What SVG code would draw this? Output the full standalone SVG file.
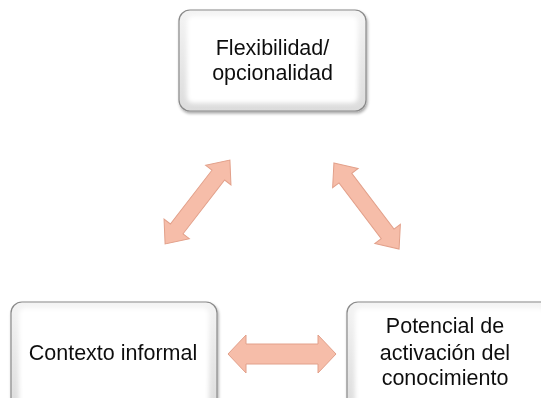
<svg xmlns="http://www.w3.org/2000/svg" width="541" height="398" viewBox="0 0 541 398">
<defs>
<linearGradient id="bev" x1="0" y1="0" x2="0" y2="1">
<stop offset="0" stop-color="#f4f4f4"/>
<stop offset="1" stop-color="#dcdcdc"/>
</linearGradient>
<filter id="soft" x="-10%" y="-10%" width="120%" height="120%">
<feGaussianBlur stdDeviation="2"/>
</filter>
<filter id="shadow" x="-10%" y="-10%" width="130%" height="130%">
<feGaussianBlur in="SourceAlpha" stdDeviation="1.5"/>
<feOffset dx="1" dy="2"/>
<feComponentTransfer><feFuncA type="linear" slope="0.35"/></feComponentTransfer>
<feMerge><feMergeNode/><feMergeNode in="SourceGraphic"/></feMerge>
</filter>
</defs>
<style>
.box{fill:url(#bev);stroke:#8a8a8a;stroke-width:1.2}
.face{fill:#ffffff;filter:url(#soft)}
.lbl{font-family:"Liberation Sans",Arial,sans-serif;font-size:21.5px;fill:#111;text-anchor:middle}
.arr{fill:#f6bda9;stroke:#e2a08a;stroke-width:1}
</style>
<g id="connectors">
<polygon class="arr" transform="translate(197.5,202) rotate(-52.3)" points="-53,0 -34,-16 -34,-8 34,-8 34,-16 53,0 34,16 34,8 -34,8 -34,16"/>
<polygon class="arr" transform="translate(366.5,206) rotate(52.9)" points="-54,0 -35,-16 -35,-8 35,-8 35,-16 54,0 35,16 35,8 -35,8 -35,16"/>
<polygon class="arr" transform="translate(282,354)" points="-54,0 -36,-19 -36,-10 36,-10 36,-19 54,0 36,19 36,10 -36,10 -36,19"/>
</g>
<g id="node-top" filter="url(#shadow)">
<rect class="box" x="179" y="10" width="187" height="101" rx="11"/>
<rect class="face" x="187" y="16" width="171" height="87" rx="6"/>
<text class="lbl" x="272.5" y="55">Flexibilidad/</text>
<text class="lbl" x="272.5" y="80">opcionalidad</text>
</g>
<g id="node-left" filter="url(#shadow)">
<rect class="box" x="11" y="302" width="206" height="110" rx="11"/>
<rect class="face" x="19" y="308" width="190" height="100" rx="6"/>
<text class="lbl" x="113" y="360">Contexto informal</text>
</g>
<g id="node-right" filter="url(#shadow)">
<rect class="box" x="347" y="302" width="206" height="110" rx="11"/>
<rect class="face" x="355" y="308" width="190" height="100" rx="6"/>
<text class="lbl" x="445" y="333">Potencial de</text>
<text class="lbl" x="445" y="360">activación del</text>
<text class="lbl" x="445" y="385">conocimiento</text>
</g>
</svg>
